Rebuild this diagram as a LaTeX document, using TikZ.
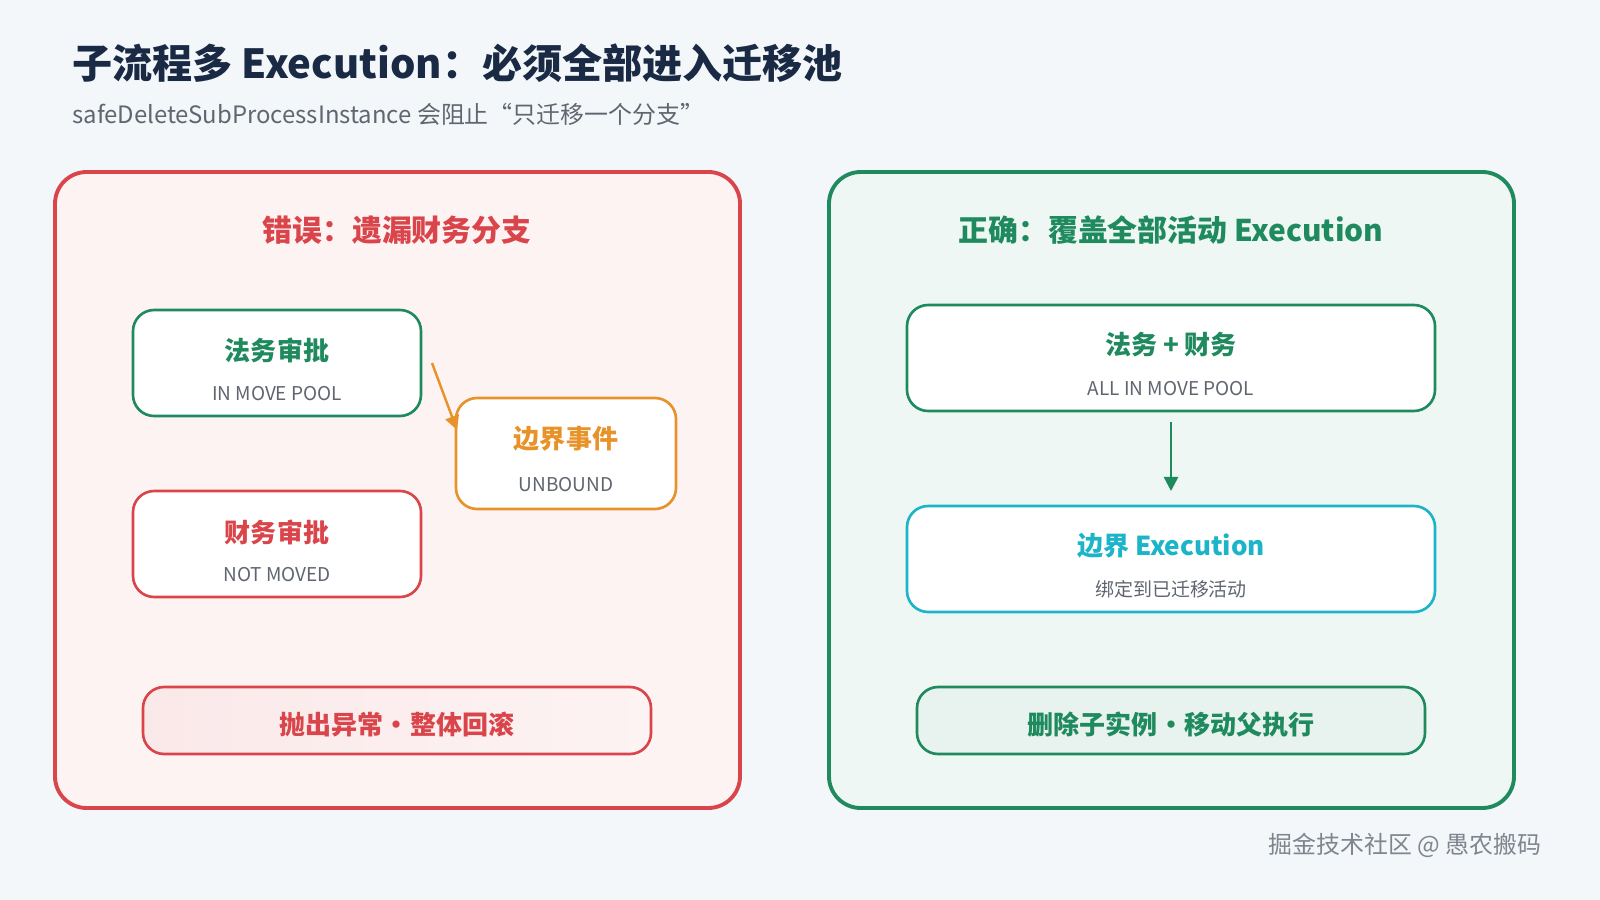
\documentclass[tikz,border=0pt]{standalone}
\usepackage{fontspec}
\setmainfont{Noto Sans CJK SC}
\usetikzlibrary{positioning,arrows.meta}
\definecolor{bgc}{HTML}{F3F7FA}
\definecolor{navy}{HTML}{1B2A44}
\definecolor{redc}{HTML}{D9454A}
\definecolor{redf}{HTML}{FDF3F3}
\definecolor{grnc}{HTML}{1E8A5E}
\definecolor{grnf}{HTML}{EEF7F3}
\definecolor{orgc}{HTML}{E8922A}
\definecolor{cyac}{HTML}{1BB4C8}
\definecolor{gryc}{HTML}{5F6670}
\newcommand{\fs}[1]{\fontsize{#1}{#1}\selectfont}
\tikzset{
  panel/.style={draw, line width=1.1pt, rounded corners=9pt},
  card/.style={draw, fill=white, line width=0.75pt, rounded corners=6pt},
  head/.style={font=\fs{7.4}\bfseries},
  sub/.style={font=\fs{5.4}, text=gryc},
}
\begin{document}
\begin{tikzpicture}[x=0.01cm,y=-0.01cm]
\useasboundingbox (0,0) rectangle (1600,900);
\fill[bgc] (0,0) rectangle (1600,900);
\node[anchor=west,font=\fs{11.4}\bfseries,text=navy] (title) at (60,63) {子流程多 Execution：必须全部进入迁移池};
\node[anchor=west,font=\fs{6.8},text=gryc] (subtitle) at (60,114) {safeDeleteSubProcessInstance 会阻止“只迁移一个分支”};
% left panel
\draw[panel,draw=redc,fill=redf] (55,172) rectangle (740,808);
\node[font=\fs{8.5}\bfseries,text=redc] (ltitle) at (397,230) {错误：遗漏财务分支};
\draw[card,draw=grnc] (133,310) rectangle (421,416);
\node[head,text=grnc] (fw) at (277,350) {法务审批};
\node[sub] (fwsub) at (277,394) {IN MOVE POOL};
\draw[card,draw=redc] (133,491) rectangle (421,597);
\node[head,text=redc] (cw) at (277,532) {财务审批};
\node[sub] (cwsub) at (277,575) {NOT MOVED};
\draw[card,draw=orgc] (456,398) rectangle (676,509);
\node[head,text=orgc] (bd) at (566,439) {边界事件};
\node[sub] (bdsub) at (566,485) {UNBOUND};
\coordinate (la) at (432,363);
\coordinate (lb) at (457,430);
\draw[orgc,line width=0.7pt,-{Triangle[length=4pt,width=4pt]}] (la) -- (lb);
\draw[draw=redc,line width=0.75pt,rounded corners=6pt,left color=redc!12,right color=redf] (143,687) rectangle (651,754);
\node[head,text=redc] (lbar) at (397,725) {抛出异常・整体回滚};
% right panel
\draw[panel,draw=grnc,fill=grnf] (829,172) rectangle (1514,808);
\node[font=\fs{8.5}\bfseries,text=grnc] (rtitle) at (1171,230) {正确：覆盖全部活动 Execution};
\draw[card,draw=grnc] (907,305) rectangle (1435,411);
\node[head,text=grnc] (all) at (1171,345) {法务 + 财务};
\node[sub] (allsub) at (1171,389) {ALL IN MOVE POOL};
\draw[card,draw=cyac] (907,506) rectangle (1435,612);
\node[head,text=cyac] (bx) at (1171,546) {边界 Execution};
\node[sub] (bxsub) at (1171,589) {绑定到已迁移活动};
\coordinate (ra) at (1171,422);
\coordinate (rb) at (1171,491);
\draw[grnc,line width=0.7pt,-{Triangle[length=4pt,width=4pt]}] (ra) -- (rb);
\draw[draw=grnc,line width=0.75pt,rounded corners=6pt,fill=grnc!10] (917,687) rectangle (1425,754);
\node[head,text=grnc] (rbar) at (1171,725) {删除子实例・移动父执行};
\node[font=\fs{6.8},text=gryc!80] (mark) at (1405,845) {掘金技术社区 @ 愚农搬码};
\end{tikzpicture}
\end{document}
